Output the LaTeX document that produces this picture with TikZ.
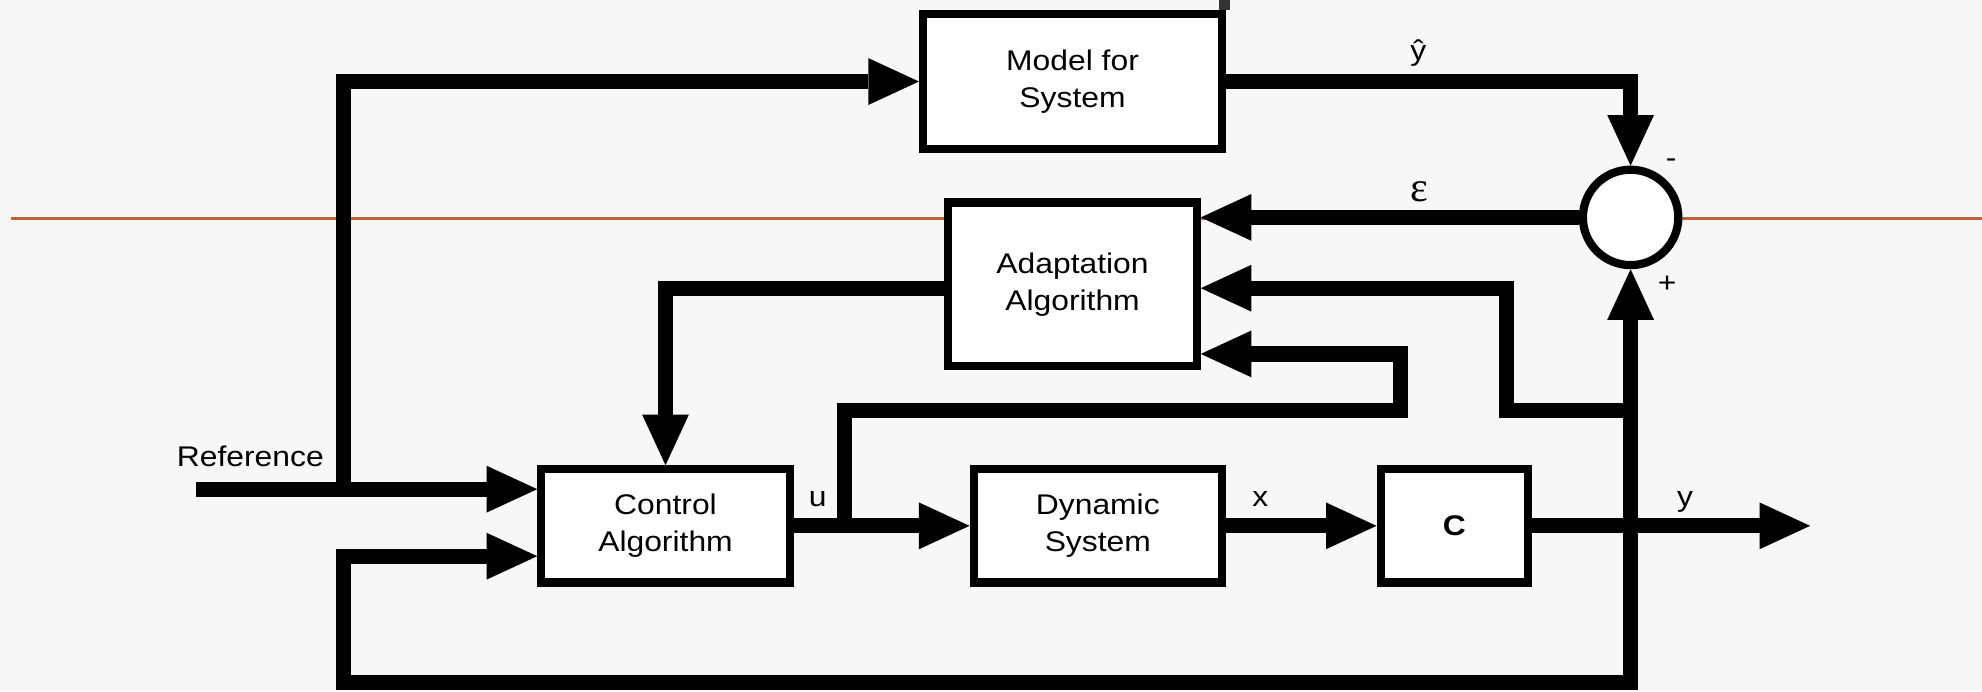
\documentclass[tikz,border=0pt]{standalone}
\usepackage{fontspec}
\setmainfont[FakeStretch=1.12]{Liberation Sans}
\newfontfamily\serifgr{Liberation Serif}
\usetikzlibrary{arrows.meta,calc}
\definecolor{rule}{RGB}{190,100,50}
\definecolor{bg}{RGB}{247,247,247}
\begin{document}
\begin{tikzpicture}[x=0.02cm,y=-0.02cm,
  blk/.style={draw, line width=0.13cm, fill=white, inner sep=0pt, align=center,
              font=\fontsize{12.8}{16.5}\selectfont},
  sig/.style={line width=0.24cm},
  tip/.style={-{Triangle[length=0.8cm,width=0.74cm,line width=0pt]}},
  tiptwo/.style={{Triangle[length=0.8cm,width=0.74cm,line width=0pt]}-{Triangle[length=0.8cm,width=0.74cm,line width=0pt]}},
  lbl/.style={font=\fontsize{12.8}{14}\selectfont, inner sep=0pt}
]
\fill[bg] (0,0) rectangle (1568,547);
\useasboundingbox (0,0) rectangle (1568,547);
\draw[rule, line width=0.048cm] (9,173) -- (1568,173);
\fill[black!80] (964,0) rectangle (973,8);

% blocks
\node[blk, minimum width=4.73cm, minimum height=2.13cm] (model) at (848.5,64.5) {Model for\\System};
\node[blk, minimum width=3.93cm, minimum height=2.59cm] (adapt) at (848.5,225) {Adaptation\\Algorithm};
\node[blk, minimum width=3.93cm, minimum height=1.79cm] (ctrl) at (526.5,416) {Control\\Algorithm};
\node[blk, minimum width=3.93cm, minimum height=1.79cm] (dyn) at (868.5,416) {Dynamic\\System};
\node[blk, minimum width=2.33cm, minimum height=1.79cm, font=\fontsize{12.8}{16.5}\selectfont\bfseries] (cbox) at (1150.5,416) {C};
\node[draw, circle, line width=0.13cm, fill=white, minimum size=1.51cm, inner sep=0pt] (sum) at (1290,172) {};

% helper coordinates
\coordinate (refs) at (155,387);
\coordinate (jref) at (272,387);
\coordinate (y228) at (0,228);
\coordinate (y280) at (0,280);
\coordinate (y440) at (0,440);
\coordinate (jy2) at (1290,325);
\coordinate (c1) at (1192,325);
\coordinate (ju) at (668,416);
\coordinate (c2) at (1108,325);
\coordinate (yend) at (1432,416);
\coordinate (fbl) at (272,440);
\coordinate (jb) at (1290,540);

% connectors
\draw[sig,tip] (refs) -- (ctrl.west |- refs);
\draw[sig,tip] (jref) |- (model.west);
\draw[sig,tip] (model.east) -| (sum.north);
\draw[sig,tip] (sum.west) -- (adapt.east |- sum.west);
\draw[sig,tip] (jy2) -- (c1) |- (adapt.east |- y228);
\draw[sig,tip] (ju) |- (c2) |- (adapt.east |- y280);
\draw[sig,tip] (adapt.west |- y228) -| (ctrl.north);
\draw[sig,tip] (ctrl.east) -- (dyn.west);
\draw[sig,tip] (dyn.east) -- (cbox.west);
\draw[sig,tip] (cbox.east) -- (yend);
\draw[sig,tiptwo] (ctrl.west |- y440) -- (fbl) |- (jb) -- (sum.south);

% labels
\node[lbl] (lyhat) at (1122,42) {ŷ};
\node[lbl, font=\serifgr\fontsize{19}{19}\selectfont] (leps) at (1123,152) {ε};
\node[lbl] (lminus) at (1322,129) {-};
\node[lbl] (lplus) at (1319,225) {+};
\node[lbl] (lref) at (198,361) {Reference};
\node[lbl] (lu) at (647,395) {u};
\node[lbl] (lx) at (997,395) {x};
\node[lbl] (ly) at (1333,397) {y};
\end{tikzpicture}
\end{document}
